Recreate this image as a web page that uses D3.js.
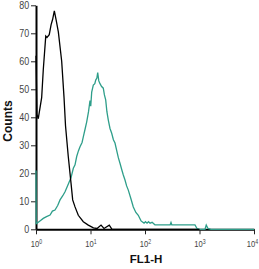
<!DOCTYPE html>
<html><head><meta charset="utf-8">
<script src="https://cdn.jsdelivr.net/npm/d3@7"></script>
<style>body{margin:0;background:#fff}</style>
</head><body>
<svg id="c" width="259" height="269"></svg>
<script>
// FL1-H values (linear units) and counts
const blackFL = [1.00,1.04,1.10,1.27,1.36,1.51,1.59,1.75,1.89,2.02,2.17,2.33,2.57,2.96,3.27,3.48,3.91,4.39,4.71,5.2,5.97,7.38,9.11,11.3,13.2,15.6,17.7,22.1,24.8,1000];
const blackCounts = [62,41,39.5,47,57,69,68.5,69.5,73,75,78,75,70.5,60,47,37,26,16.5,10.5,8,5,2.7,1.5,0.5,0.3,1.5,0.3,1.5,0,0];
const tealFL = [1.0,1.01,1.03,1.18,1.36,1.56,1.81,2.0,2.23,2.5,2.76,3.1,3.41,3.7,4.08,4.4,4.84,5.2,5.58,6.0,6.42,7.0,7.38,8.0,8.52,9.2,9.79,10.1,10.52,11.26,12.0,12.46,13.1,13.56,14.2,14.94,16.0,17.17,18.0,19.0,20.0,21.22,22.8,24.49,26.3,28.15,31.02,32.5,34.76,37.84,40.0,42.95,46,49.4,55,61,68,75.3,84.5,96,102,109,116,124,135,152,170,188,250,290,300,310,500,826,900,980,1262,1330,1432,1625,10000];
const tealCounts = [21,2,2.1,3,3.9,4.5,5.1,6.5,6.9,8.5,10.5,12,13.4,15,17,18.5,21.8,23,26,28,29.5,31,33,36,38.4,42,46,44,49,51.5,52,53.3,54,56,53,52,51,50.4,48,46.2,42,39,36,34.3,32,30.8,27.2,25.5,23.6,21,19.4,17.6,15.5,14,11,8,6,5,3,2.2,2.7,2.2,2.7,2.2,2.5,1.6,1.6,1.6,1.6,1.6,2.4,1.6,1.6,1.6,0.3,0,0,1.5,0.3,0,0];
const xTicks = [1,10,100,1000,10000];
const xTickExp = ["0","1","2","3","4"];
const yTicks = [0,10,20,30,40,50,60,70,80];

const svg = d3.select("#c");
const x = d3.scaleLog().domain([1,10000]).range([36,254]);
const y = d3.scaleLinear().domain([0,80]).range([229.3,5.3]);
const font = "Arial,'Liberation Sans',sans-serif";

// axes
const ya = svg.append("g").attr("transform","translate(36,0)")
  .call(d3.axisLeft(y).tickValues(yTicks).tickSize(5).tickPadding(3).tickSizeOuter(0));
ya.select(".domain").attr("stroke","#000").attr("stroke-width",2);
ya.selectAll(".tick line").attr("stroke","#222");
ya.selectAll(".tick text").attr("font-family",font).attr("font-size",10.5).attr("fill","#444")
  .attr("transform","scale(0.85,1)");

const xa = svg.append("g").attr("transform","translate(0,229.3)")
  .call(d3.axisBottom(x).tickValues(xTicks).tickSize(5).tickPadding(4).tickSizeOuter(0).tickFormat(()=>""));
xa.select(".domain").attr("stroke","#000").attr("stroke-width",2);
xa.selectAll(".tick line").attr("stroke","#222");
xa.selectAll(".tick text").each(function(d,i){
  const t = d3.select(this).attr("font-family",font).attr("font-size",9.5).attr("fill","#444").attr("dy","0.9em")
    .attr("transform", i===4 ? "translate(-2,0) scale(0.8,1)" : "scale(0.8,1)");
  t.append("tspan").text("10");
  t.append("tspan").attr("font-size",6.5).attr("dy","-0.5em").text(xTickExp[i]);
});

// curves
const line = d3.line().x(d=>x(d[0])).y(d=>y(d[1]));
const black = blackFL.map((v,i)=>[v,blackCounts[i]]);
const teal = tealFL.map((v,i)=>[v,tealCounts[i]]);
svg.append("path").datum(teal).attr("d",line).attr("fill","none").attr("stroke","#2e9e8a").attr("stroke-width",1.3);
svg.append("path").datum(black).attr("d",line).attr("fill","none").attr("stroke","#000").attr("stroke-width",1.3);

// labels
svg.append("text").attr("transform","translate(12,121) rotate(-90)").attr("text-anchor","middle")
  .attr("font-family",font).attr("font-weight","bold").attr("font-size",12).attr("fill","#111").text("Counts");
svg.append("text").attr("x",146).attr("y",263).attr("text-anchor","middle")
  .attr("font-family",font).attr("font-weight","bold").attr("font-size",11.5).attr("fill","#111").text("FL1-H");
</script>
</body></html>
